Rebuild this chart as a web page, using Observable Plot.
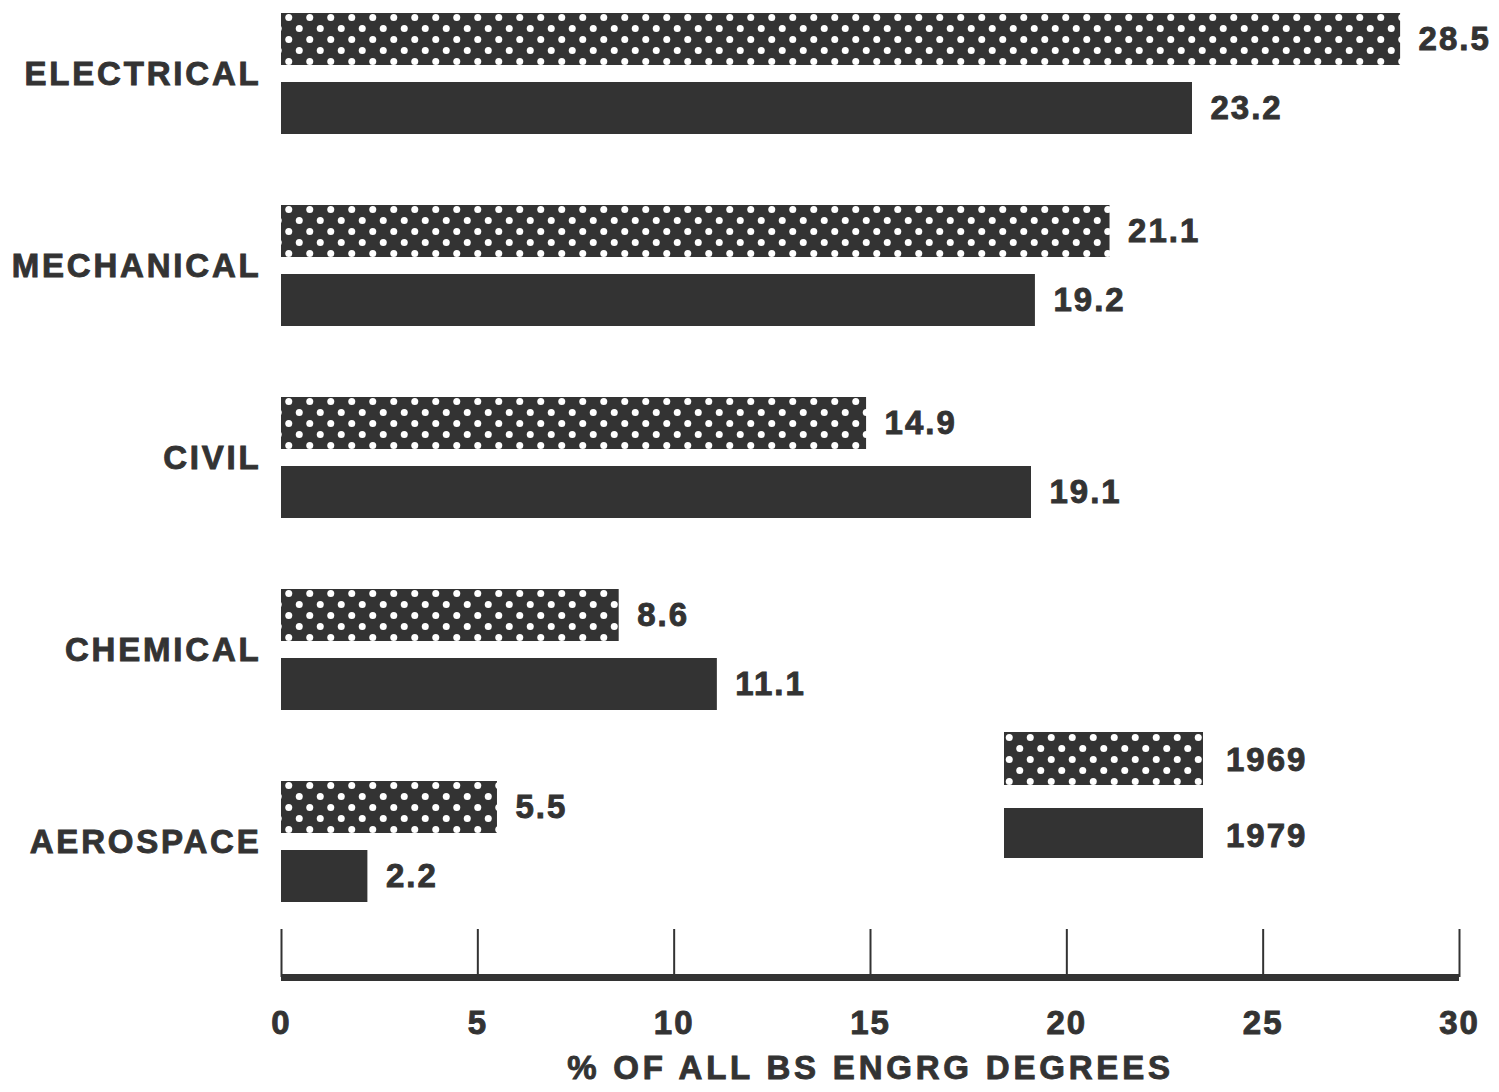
<!DOCTYPE html>
<html>
<head>
<meta charset="utf-8">
<script src="https://cdn.jsdelivr.net/npm/d3@7"></script>
<script src="https://cdn.jsdelivr.net/npm/@observablehq/plot@0.6"></script>
<style>
  html, body { margin: 0; padding: 0; background: #fff; }
  #wrap { position: relative; width: 1499px; height: 1092px; overflow: hidden; background: #fff; }
  #wrap > * { position: absolute; left: 0; }
  #wrap text { stroke: #333; stroke-width: 0.9px; paint-order: stroke; }
  #wrap g[aria-label="fy-axis tick label"] text { letter-spacing: 2.8px; }
  #wrap .title text { letter-spacing: 3.8px; }
</style>
</head>
<body>
<svg width="0" height="0" style="position:absolute">
  <defs>
    <pattern id="dots" patternUnits="userSpaceOnUse" width="21" height="22">
      <rect width="21" height="22" fill="#333"></rect>
      <circle cx="5.25" cy="5.5" r="3.5" fill="#fff"></circle>
      <circle cx="15.75" cy="16.5" r="3.5" fill="#fff"></circle>
    </pattern>
  </defs>
</svg>
<div id="wrap"></div>
<script>
// ---- data ----
const categories = ["ELECTRICAL", "MECHANICAL", "CIVIL", "CHEMICAL", "AEROSPACE"];
const years = ["1969", "1979"];
const values1969 = [28.5, 21.1, 14.9, 8.6, 5.5];
const values1979 = [23.2, 19.2, 19.1, 11.1, 2.2];
const xTicks = [0, 5, 10, 15, 20, 25, 30];
const axisTitle = "% OF ALL BS ENGRG DEGREES";

const INK = "#333";
const FONT = "'Liberation Sans', Arial, Helvetica, sans-serif";
const FS = 33;

const rows = [];
categories.forEach((c, i) => {
  rows.push({category: c, year: "1969", value: values1969[i]});
  rows.push({category: c, year: "1979", value: values1979[i]});
});

const style = {
  fontFamily: FONT,
  fontWeight: "700",
  color: INK,
  background: "transparent",
  letterSpacing: "2px"
};

const main = Plot.plot({
  width: 1499,
  height: 929,
  marginLeft: 281,
  marginRight: 40,
  marginTop: 12,
  marginBottom: 26,
  style,
  x: {domain: [0, 30], axis: null},
  y: {domain: years, paddingInner: 0.25, paddingOuter: 0, axis: null},
  fy: {domain: categories, paddingInner: 0.371, paddingOuter: 0, axis: null, label: null},
  marks: [
    Plot.axisFy({anchor: "left", tickSize: 0, tickPadding: 20, fontSize: FS, fill: INK, label: null}),
    Plot.barX(rows.filter(d => d.year === "1969"), {x: "value", y: "year", fy: "category", fill: "url(#dots)"}),
    Plot.barX(rows.filter(d => d.year === "1979"), {x: "value", y: "year", fy: "category", fill: INK}),
    Plot.text(rows, {
      x: "value", y: "year", fy: "category",
      text: d => d.value.toFixed(1),
      textAnchor: "start", dx: 18, fontSize: FS, fontWeight: 700, fill: INK
    })
  ]
});
main.style.top = "0px";

const axis = Plot.plot({
  width: 1499,
  height: 163,
  marginLeft: 281,
  marginRight: 40,
  marginTop: 0,
  marginBottom: 115,
  style,
  x: {domain: [0, 30], axis: null},
  y: {domain: [0, 1], axis: null},
  marks: [
    Plot.ruleX(xTicks, {stroke: INK, strokeWidth: 2}),
    Plot.ruleY([0], {stroke: INK, strokeWidth: 7}),
    Plot.axisX({ticks: xTicks, tickSize: 0, tickPadding: 33, fontSize: FS, fill: INK, label: null}),
    Plot.text([axisTitle], {frameAnchor: "bottom", dy: 91, lineAnchor: "middle", fontSize: FS, fontWeight: 700, fill: INK, className: "title"})
  ]
});
axis.style.top = "929px";

document.getElementById("wrap").append(main, axis);

// legend (HTML overlay with SVG swatches)
const legend = d3.create("svg")
  .attr("width", 320).attr("height", 140)
  .style("left", "1004px").style("top", "728px")
  .style("font-family", FONT)
  .style("font-weight", "700").style("letter-spacing", "2px");
const lg = legend.selectAll("g").data(years).join("g")
  .attr("transform", (d, i) => `translate(0,${4 + i * 76})`);
lg.append("rect").attr("width", 199).attr("height", (d, i) => i === 0 ? 53 : 50)
  .attr("fill", d => d === "1969" ? "url(#dots)" : INK);
lg.append("text").attr("x", 222).attr("y", 27).attr("dy", "0.35em")
  .attr("font-size", FS).attr("fill", INK).text(d => d);
document.getElementById("wrap").append(legend.node());
</script>
</body>
</html>
